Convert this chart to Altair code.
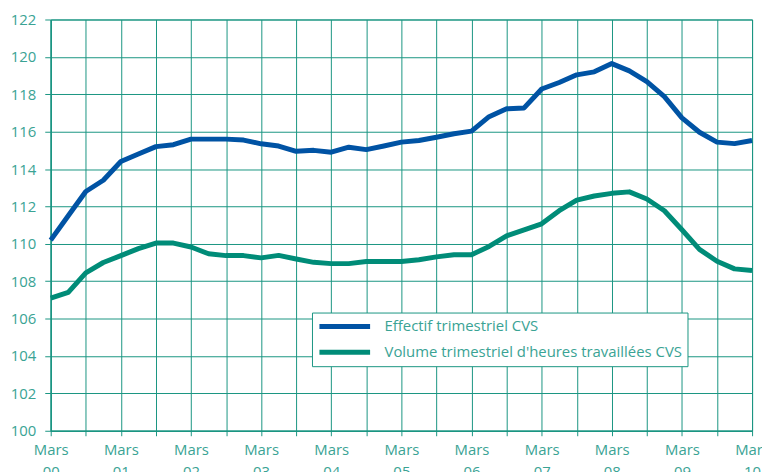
import altair as alt
import pandas as pd

# Quarterly index: 0 = Mars 2000 ... 40 = Mars 2010
quarters = list(range(41))

effectif = [110.2, 111.5, 112.8, 113.4, 114.4, 114.8, 115.2, 115.3, 115.6, 115.6,
            115.6, 115.55, 115.35, 115.23, 114.95, 115.0, 114.9, 115.17, 115.04, 115.23,
            115.44, 115.53, 115.7, 115.89, 116.03, 116.8, 117.22, 117.27, 118.28, 118.63,
            119.04, 119.2, 119.64, 119.25, 118.68, 117.87, 116.74, 115.97, 115.44, 115.36,
            115.53]

volume = [107.1, 107.4, 108.45, 109.0, 109.37, 109.74, 110.04, 110.04, 109.83, 109.47,
          109.37, 109.37, 109.25, 109.38, 109.19, 109.01, 108.94, 108.94, 109.05, 109.05,
          109.05, 109.15, 109.3, 109.42, 109.42, 109.86, 110.43, 110.75, 111.07, 111.77,
          112.34, 112.56, 112.7, 112.78, 112.4, 111.77, 110.75, 109.7, 109.07, 108.66,
          108.57]

series_names = ["Effectif trimestriel CVS", "Volume trimestriel d'heures travaillées CVS"]
series_colors = ["#0053a4", "#008c78"]

x_ticks = list(range(0, 41, 2))
y_ticks = list(range(100, 123, 2))

df = pd.DataFrame({
    "q": quarters * 2,
    "v": effectif + volume,
    "s": [series_names[0]] * len(quarters) + [series_names[1]] * len(quarters),
})

grid_col = "#1a9582"
text_col = "#3aa394"
font = "Open Sans"

chart = alt.Chart(df).mark_line(strokeWidth=5, strokeJoin="round").encode(
    x=alt.X("q:Q",
            scale=alt.Scale(domain=[0, 40], nice=False, zero=False),
            axis=alt.Axis(values=x_ticks, title=None,
                          labelExpr="datum.value % 4 == 0 ? ['Mars', format(datum.value/4, '02d')] : ''",
                          labelLineHeight=22, labelOverlap=False, labelFlush=False,
                          labelPadding=7, tickSize=5)),
    y=alt.Y("v:Q",
            scale=alt.Scale(domain=[100, 122], nice=False, zero=False),
            axis=alt.Axis(values=y_ticks, title=None, format="d",
                          tickSize=6, labelPadding=9)),
    color=alt.Color("s:N",
                    scale=alt.Scale(domain=series_names, range=series_colors),
                    legend=alt.Legend(title=None, orient="none", legendX=263, legendY=295,
                                      symbolType="stroke", symbolSize=2601,
                                      symbolStrokeWidth=5, clipHeight=18, rowPadding=8,
                                      padding=5, labelOffset=12, labelFontSize=15,
                                      labelFont=font, labelColor=text_col, labelLimit=500,
                                      strokeColor=grid_col, fillColor="white")),
).properties(
    width=706, height=414,
    autosize=alt.AutoSizeParams(type="none"),
    padding={"left": 43, "top": 10, "right": 10, "bottom": 48},
).configure_axis(
    grid=True, gridColor=grid_col, gridWidth=1, gridOpacity=1,
    domainColor=grid_col, domainWidth=1.5, tickColor=grid_col, tickWidth=1,
    labelColor=text_col, labelFont=font, labelFontSize=15,
).configure_view(stroke=grid_col, strokeWidth=1)

chart.save("out.html", embed_options={"renderer": "svg", "actions": False})
